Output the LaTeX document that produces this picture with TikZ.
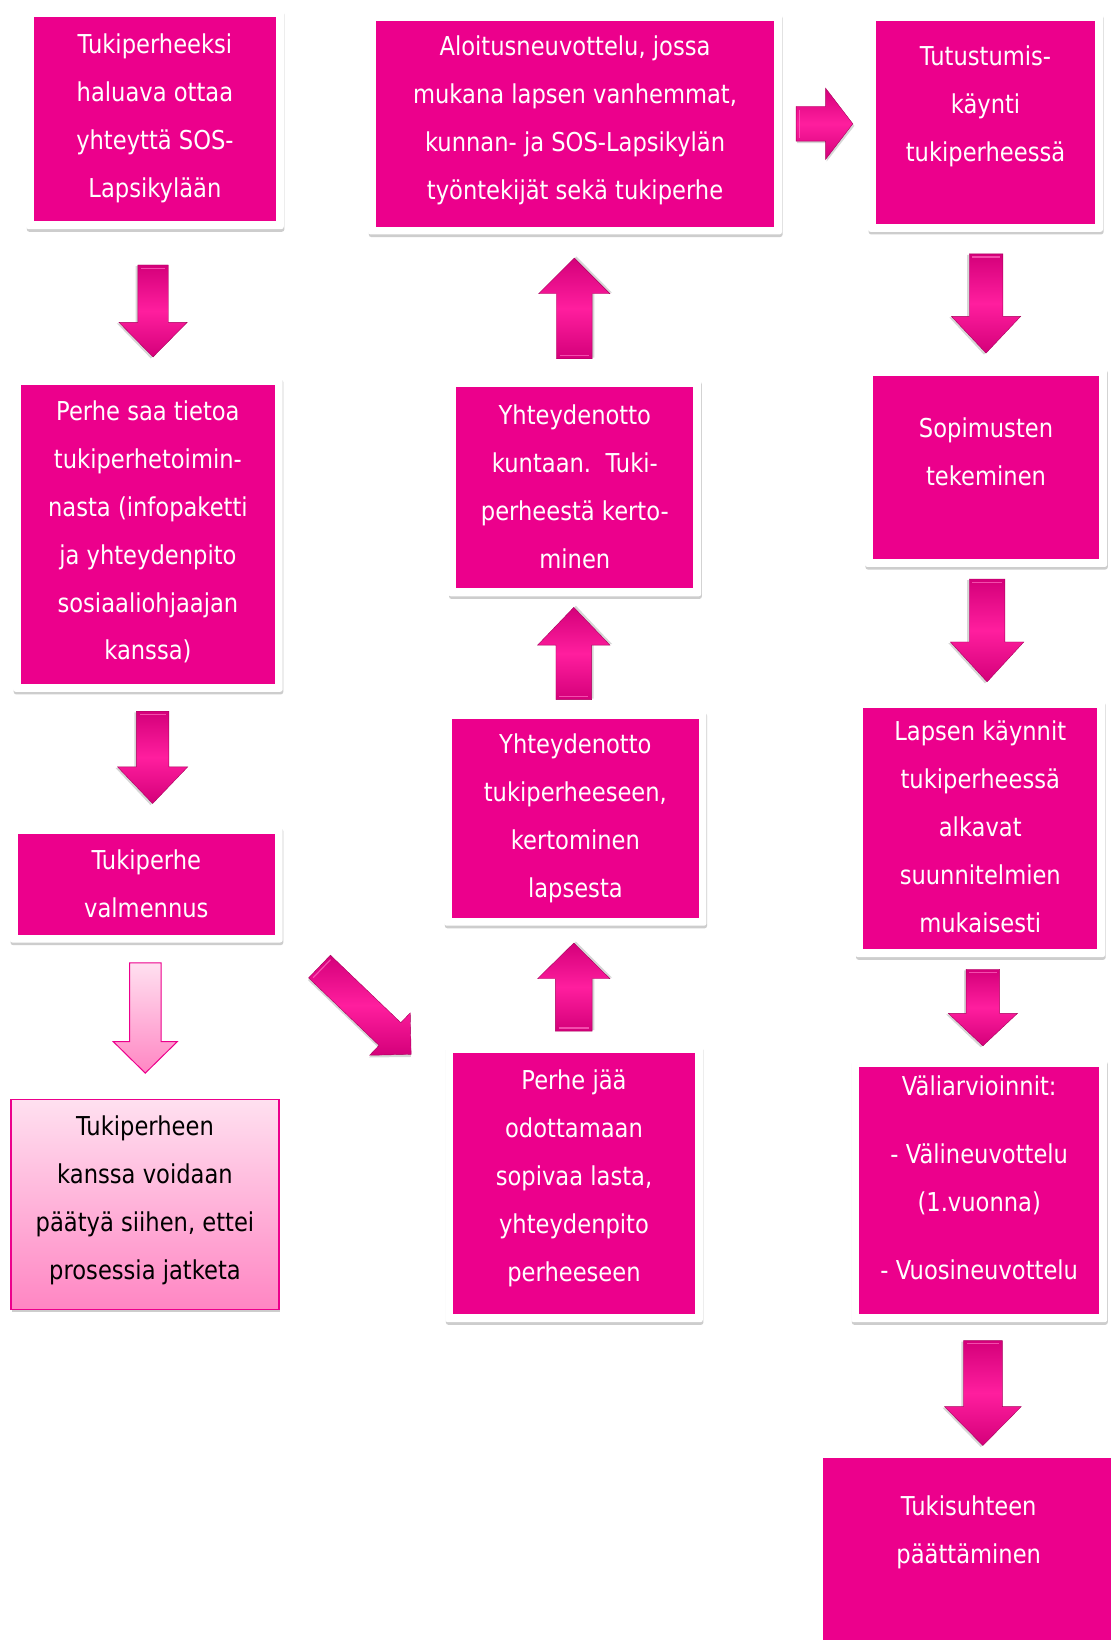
\documentclass[tikz,border=0pt]{standalone}
\usepackage{fontspec}
\setmainfont[FakeStretch=0.87]{DejaVu Sans}
\usetikzlibrary{fit,shadows}
\definecolor{mag}{HTML}{EC008C}
\definecolor{adark}{HTML}{D4007A}
\definecolor{alight}{HTML}{FF1E9E}
\definecolor{aedge}{HTML}{A8005C}
\definecolor{ahigh}{HTML}{FF6CC0}
\definecolor{lpinkA}{HTML}{FFE0F0}
\definecolor{lpinkB}{HTML}{FF86C3}
\tikzset{
  frame/.style={fill=white, rounded corners=2.5pt, inner sep=0pt, outer sep=0pt,
    drop shadow={shadow xshift=0.6pt, shadow yshift=-2.6pt, opacity=0.28, fill=black!70}},
  inbox/.style={fill=mag, inner sep=0pt, outer sep=0pt},
  lightbox/.style={top color=lpinkA, bottom color=lpinkB, draw=mag, line width=1.2pt, inner sep=0pt,
    drop shadow={shadow xshift=0.6pt, shadow yshift=-2.6pt, opacity=0.28, fill=black!70}},
  txt/.style={text=white, align=center, font=\fontsize{26}{48}\selectfont, inner sep=0pt},
  pics/barrow/.style n args={4}{code={
    \fill[black, opacity=0.16] (1,-#2+2) -- ({#1-#4+1},-#2+2) -- ({#1-#4+1},-#3+2) -- (#1+1.5,2) -- ({#1-#4+1},#3+2) -- ({#1-#4+1},#2+2) -- (1,#2+2) -- cycle;
    \shadedraw[top color=adark, bottom color=adark, middle color=alight, draw=aedge, line width=0.4pt]
      (0,-#2) -- ({#1-#4},-#2) -- ({#1-#4},-#3) -- (#1,0) -- ({#1-#4},#3) -- ({#1-#4},#2) -- (0,#2) -- cycle;
    \draw[ahigh, line width=1.2pt, opacity=0.7] (3,-#2+3) -- (3,#2-3);
  }}
}
\newcommand\pbox[5]{%
  \node[frame, fit={(#2-7.5,#3-7.5)(#4+7.5,#5+7.5)}] (#1f) {};
  \node[inbox, fit={(#2,#3)(#4,#5)}] (#1) {};
}
\begin{document}
\begin{tikzpicture}[x=1.049pt,y=-1.049pt]
\useasboundingbox[fill=white] (0,0) rectangle (1059.1,1568.2);

% ---- boxes ----
\pbox{A}{32.5}{16.5}{263}{211}
\pbox{B}{20}{367}{262}{652}
\pbox{C}{17}{795}{262}{891}
\node[lightbox, fit={(10.5,1048)(266,1248)}] (D) {};
\pbox{E}{358.5}{20}{738}{216}
\pbox{F}{435}{369}{661}{561}
\pbox{G}{431}{685}{666}{875}
\pbox{H}{432}{1004}{662.5}{1253}
\pbox{I}{835}{20}{1044}{213.5}
\pbox{J}{832}{358}{1048}{533}
\pbox{K}{823}{675}{1046}{905}
\pbox{L}{819}{1017}{1048}{1253}
\pbox{M}{785}{1390}{1062}{1563}

% ---- texts ----
\node[txt] (At) at (147.7,113) {Tukiperheeksi\\haluava ottaa\\yhteyttä SOS-\\Lapsikylään};
\node[txt] (Bt) at (141,507) {Perhe saa tietoa\\tukiperhetoimin-\\nasta (infopaketti\\ja yhteydenpito\\sosiaaliohjaajan\\kanssa)};
\node[txt] (Ct) at (139.5,843) {Tukiperhe\\valmennus};
\node[txt, text=black] (Dt) at (138.2,1144) {Tukiperheen\\kanssa voidaan\\päätyä siihen, ettei\\prosessia jatketa};
\node[txt] (Et) at (548.2,115) {Aloitusneuvottelu, jossa\\mukana lapsen vanhemmat,\\kunnan- ja SOS-Lapsikylän\\työntekijät sekä tukiperhe};
\node[txt] (Ft) at (548,464) {Yhteydenotto\\kuntaan.\ \ Tuki-\\perheestä kerto-\\minen};
\node[txt] (Gt) at (548.5,780) {Yhteydenotto\\tukiperheeseen,\\kertominen\\lapsesta};
\node[txt] (Ht) at (547.2,1123) {Perhe jää\\odottamaan\\sopivaa lasta,\\yhteydenpito\\perheeseen};
\node[txt] (It) at (939.5,101) {Tutustumis-\\käynti\\tukiperheessä};
\node[txt] (Jt) at (940,431) {Sopimusten\\tekeminen};
\node[txt] (Kt) at (934.5,788) {Lapsen käynnit\\tukiperheessä\\alkavat\\suunnitelmien\\mukaisesti};
\node[txt] (Lt) at (933.5,1123) {Väliarvioinnit:\\[20pt]- Välineuvottelu\\(1.vuonna)\\[20pt]- Vuosineuvottelu};
\node[txt] (Mt) at (923.5,1461) {Tukisuhteen\\päättäminen};

% ---- block arrows (connectors) ----
\coordinate (ab) at (145.9,252.6);
\coordinate (bc) at (145.5,678);
\coordinate (fe) at (547.5,342);
\coordinate (gf) at (547,667);
\coordinate (hg) at (547,983);
\coordinate (ei) at (759,118);
\coordinate (ij) at (940,242);
\coordinate (jk) at (941,552);
\coordinate (kl) at (937,924);
\coordinate (lm) at (937,1278);
\coordinate (ch) at (304.6,921.4);

\pic[rotate=-90] (pAB) at (ab) {barrow={87.7}{14.5}{32.5}{33}};
\pic[rotate=-90] (pBC) at (bc) {barrow={88}{15.5}{33.5}{35}};
\pic[rotate=90]  (pFE) at (fe) {barrow={96}{17}{34}{34}};
\pic[rotate=90]  (pGF) at (gf) {barrow={88}{17}{34.5}{36}};
\pic[rotate=90]  (pHG) at (hg) {barrow={84}{17.5}{34.5}{34}};
\pic             (pEI) at (ei) {barrow={54}{16.5}{34}{26}};
\pic[rotate=-90] (pIJ) at (ij) {barrow={94.6}{16}{33}{35}};
\pic[rotate=-90] (pJK) at (jk) {barrow={98}{17}{35}{38}};
\pic[rotate=-90] (pKL) at (kl) {barrow={73}{16}{33}{31}};
\pic[rotate=-90] (pLM) at (lm) {barrow={100}{18.5}{36.5}{37}};
\pic[rotate=-43.8] (pCH) at (ch) {barrow={121}{15}{28}{28}};

% light arrow C -> D
\shadedraw[top color=lpinkA, bottom color=lpinkB, draw=mag, line width=1pt]
  (123.5,918) -- (153.5,918) -- (153.5,993) -- (169,993) -- (138.5,1023) -- (108,993) -- (123.5,993) -- cycle;
\end{tikzpicture}
\end{document}
